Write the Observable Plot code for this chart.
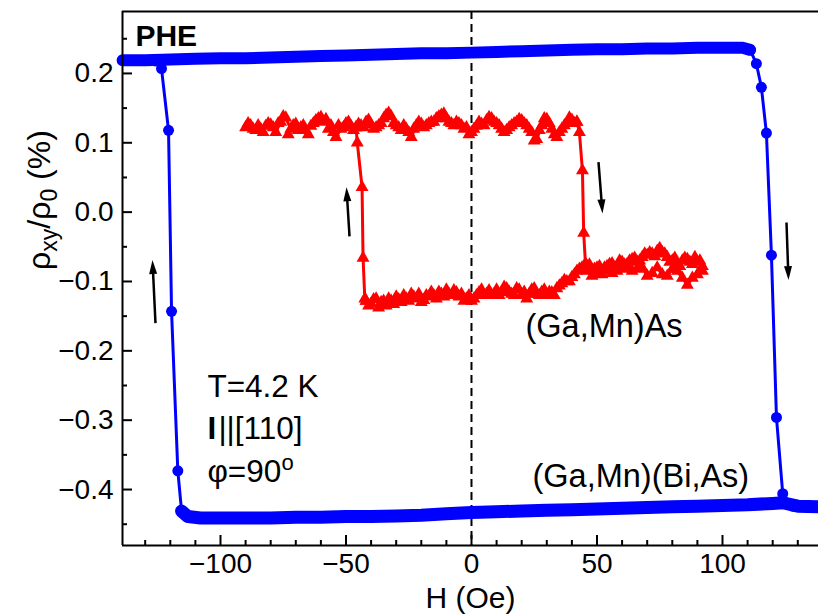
<!DOCTYPE html>
<html><head><meta charset="utf-8">
<script src="https://cdn.jsdelivr.net/npm/d3@7"></script>
<script src="https://cdn.jsdelivr.net/npm/@observablehq/plot@0.6"></script>
<style>body{margin:0;background:#fff} #chart{width:818px;height:614px}</style>
</head><body><div id="chart"></div><script>
// ---------- data ----------
// (Ga,Mn)(Bi,As) – blue, circles
const blueUpperH = [-139,-130,-120,-110,-100,-90,-80,-70,-60,-50,-40,-30,-20,-10,0,10,20,30,40,50,60,70,80,90,100,108,111];
const blueUpperV = [0.219,0.219,0.220,0.221,0.222,0.222,0.223,0.224,0.225,0.226,0.227,0.228,0.229,0.229,0.230,0.231,0.232,0.233,0.234,0.235,0.235,0.236,0.236,0.237,0.237,0.237,0.234];
const blueLowerH = [-115.5,-113,-108,-100,-90,-80,-70,-60,-50,-40,-30,-20,-10,0,10,20,30,40,50,60,70,80,90,100,110,120,124,130,139];
const blueLowerV = [-0.431,-0.439,-0.441,-0.441,-0.441,-0.441,-0.440,-0.440,-0.439,-0.439,-0.438,-0.437,-0.435,-0.433,-0.432,-0.431,-0.430,-0.429,-0.428,-0.427,-0.426,-0.425,-0.424,-0.423,-0.422,-0.420,-0.419,-0.424,-0.425];
const blueRightJumpH = [111,113.5,115.5,117.5,119.5,121.5,124,128];
const blueRightJumpV = [0.234,0.214,0.180,0.114,-0.062,-0.296,-0.406,-0.424];
const blueLeftJumpH = [-115.5,-117,-119.5,-120.7,-123.5,-126];
const blueLeftJumpV = [-0.431,-0.373,-0.143,0.118,0.207,0.218];

// (Ga,Mn)As – red, triangles
const redUpperH = [-90,-88,-86,-84,-82,-80,-78,-76,-74,-72,-70,-68,-66,-64,-62,-60,-58,-56,-54,-52,-50,-48,-46,-44,-42,-40,-38,-36,-34,-32,-30,-28,-26,-24,-22,-20,-18,-16,-14,-12,-10,-8,-6,-4,-2,0,2,4,6,8,10,12,14,16,18,20,22,24,26,28,30,32,34,36,38,40,42];
const redUpperV = [0.122,0.125,0.118,0.120,0.124,0.126,0.115,0.130,0.136,0.120,0.127,0.122,0.118,0.124,0.132,0.137,0.134,0.125,0.108,0.120,0.128,0.124,0.122,0.125,0.130,0.126,0.122,0.128,0.140,0.138,0.125,0.118,0.120,0.108,0.125,0.127,0.125,0.130,0.135,0.140,0.135,0.128,0.130,0.125,0.122,0.115,0.124,0.127,0.132,0.135,0.128,0.120,0.118,0.125,0.130,0.132,0.125,0.115,0.105,0.125,0.134,0.120,0.108,0.120,0.128,0.133,0.130];
const redUpperOddH = [-89,-87,-85,-83,-81,-79,-77,-75,-73,-71,-69,-67,-65,-63,-61,-59,-57,-55,-53,-51,-49,-47,-45,-43,-41,-39,-37,-35,-33,-31,-29,-27,-25,-23,-21,-19,-17,-15,-13,-11,-9,-7,-5,-3,-1,1,3,5,7,9,11,13,15,17,19,21,23,25,27,29,31,33,35,37,39,41];
const redUpperOddV = [0.128,0.120,0.125,0.115,0.128,0.122,0.128,0.138,0.112,0.125,0.118,0.125,0.112,0.128,0.135,0.130,0.120,0.115,0.125,0.122,0.130,0.118,0.127,0.122,0.133,0.120,0.125,0.135,0.143,0.128,0.122,0.125,0.115,0.120,0.130,0.122,0.128,0.130,0.138,0.142,0.130,0.125,0.128,0.120,0.112,0.120,0.130,0.125,0.137,0.130,0.125,0.115,0.122,0.128,0.134,0.128,0.120,0.103,0.118,0.135,0.128,0.112,0.115,0.125,0.136,0.128];
const redLowerH = [-42,-40,-38,-36,-34,-32,-30,-28,-26,-24,-22,-20,-18,-16,-14,-12,-10,-8,-6,-4,-2,0,2,4,6,8,10,12,14,16,18,20,22,24,26,28,30,32,34,36,38,40,42,44,46,48,50,52,54,56,58,60,62,64,66,68,70,72,74,76,78,80,82,84,86,88,90,92];
const redLowerV = [-0.128,-0.132,-0.125,-0.130,-0.135,-0.128,-0.122,-0.130,-0.125,-0.118,-0.125,-0.130,-0.120,-0.115,-0.125,-0.118,-0.112,-0.120,-0.116,-0.118,-0.125,-0.128,-0.120,-0.112,-0.118,-0.120,-0.112,-0.116,-0.110,-0.118,-0.110,-0.120,-0.125,-0.112,-0.118,-0.115,-0.120,-0.116,-0.110,-0.103,-0.100,-0.094,-0.085,-0.080,-0.078,-0.083,-0.080,-0.085,-0.078,-0.074,-0.078,-0.072,-0.075,-0.068,-0.072,-0.065,-0.062,-0.060,-0.056,-0.058,-0.065,-0.070,-0.075,-0.070,-0.068,-0.075,-0.072,-0.078];
const redLowerOddH = [-41,-39,-37,-35,-33,-31,-29,-27,-25,-23,-21,-19,-17,-15,-13,-11,-9,-7,-5,-3,-1,1,3,5,7,9,11,13,15,17,19,21,23,25,27,29,31,33,35,37,39,41,43,45,47,49,51,53,55,57,59,61,63,65,67,69,71,73,75,77,79,81,83,85,87,89,91];
const redLowerOddV = [-0.135,-0.126,-0.138,-0.128,-0.125,-0.133,-0.126,-0.120,-0.128,-0.122,-0.118,-0.127,-0.122,-0.120,-0.115,-0.122,-0.118,-0.113,-0.122,-0.128,-0.120,-0.125,-0.116,-0.120,-0.113,-0.118,-0.120,-0.108,-0.115,-0.120,-0.112,-0.115,-0.118,-0.110,-0.120,-0.112,-0.115,-0.120,-0.106,-0.098,-0.100,-0.090,-0.082,-0.080,-0.076,-0.082,-0.078,-0.080,-0.075,-0.080,-0.070,-0.076,-0.070,-0.066,-0.070,-0.060,-0.058,-0.064,-0.052,-0.060,-0.072,-0.066,-0.078,-0.066,-0.072,-0.065,-0.070];
const redReturnH = [92,90,88,86,84,82,80,78,76,74,72,70,68,66,64,62,60,58,56,54,52,50,48,46];
const redReturnV = [-0.085,-0.090,-0.095,-0.105,-0.095,-0.085,-0.082,-0.092,-0.090,-0.080,-0.088,-0.092,-0.080,-0.082,-0.085,-0.080,-0.082,-0.085,-0.088,-0.084,-0.090,-0.088,-0.092,-0.085];
const redRightJumpH = [42,43,44.2,44.7,45.4,46];
const redRightJumpV = [0.130,0.115,0.060,-0.030,-0.074,-0.078];
const redLeftJumpH = [-46,-45.5,-43.6,-43.2,-42.5,-42];
const redLeftJumpV = [0.122,0.100,0.036,-0.066,-0.125,-0.128];

// sweep-direction arrows (tail -> tip)
const arrowX1 = [-125.9,-48.6,50.6,125.5];
const arrowY1 = [-0.160,-0.035,0.072,-0.015];
const arrowX2 = [-127.1,-49.8,52.2,126.3];
const arrowY2 = [-0.069,0.036,-0.002,-0.098];

// ticks
const xMajorTicks = [-100,-50,0,50,100];
const xMinorTicks = [-130,-120,-110,-90,-80,-70,-60,-40,-30,-20,-10,10,20,30,40,60,70,80,90,110,120,130];
const yMajorTicks = [-0.4,-0.3,-0.2,-0.1,0.0,0.1,0.2];
const yMinorTicks = [-0.45,-0.35,-0.25,-0.15,-0.05,0.05,0.15,0.25];

// ---------- build ----------
const W = 818, H = 614, mL = 122, mR = 0, mT = 11, mB = 69;
const xDomain = [-139.04, 138.25], yDomain = [-0.4807, 0.2893];
const xs = d3.scaleLinear(xDomain, [mL, W - mR]);
const ys = d3.scaleLinear(yDomain, [H - mB, mT]);
const zip = (a, b) => a.map((x, i) => ({x, y: b[i]}));

const blueUpper = zip(blueUpperH, blueUpperV);
const blueLower = zip(blueLowerH, blueLowerV);
const blueRight = zip(blueRightJumpH, blueRightJumpV);
const blueLeft = zip(blueLeftJumpH, blueLeftJumpV);
const redUpper = zip(redUpperH, redUpperV);
const redUpperOdd = zip(redUpperOddH, redUpperOddV);
const redLower = zip(redLowerH, redLowerV);
const redLowerOdd = zip(redLowerOddH, redLowerOddV);
const redReturn = zip(redReturnH, redReturnV);
const redRight = zip(redRightJumpH, redRightJumpV);
const redLeft = zip(redLeftJumpH, redLeftJumpV);

const arrows = arrowX1.map((x1, i) => {
  const px1 = xs(x1), py1 = ys(arrowY1[i]), px2 = xs(arrowX2[i]), py2 = ys(arrowY2[i]);
  const dx = px2 - px1, dy = py2 - py1, len = Math.hypot(dx, dy);
  const rot = Math.atan2(dx, -dy) * 180 / Math.PI;
  return {x1, y1: arrowY1[i], x2: arrowX2[i], y2: arrowY2[i],
    xb: xs.invert(px2 - dx / len * 8), yb: ys.invert(py2 - dy / len * 8), rot};
});
const headSymbol = {draw(ctx) { ctx.moveTo(0, 0); ctx.lineTo(4, 14); ctx.lineTo(-4, 14); ctx.closePath(); }};

const BLUE = "#0000ff", RED = "#ff0000";
const FONT = "Liberation Sans, Arial, sans-serif";
const plotW = W - mL - mR, plotH = H - mT - mB;
const tri = {x: "x", y: "y", r: 4.8, symbol: "triangle", fill: RED};
const redLine = {x: "x", y: "y", stroke: RED, strokeWidth: 3};

const plot = Plot.plot({
  width: W, height: H,
  marginLeft: mL, marginRight: mR, marginTop: mT, marginBottom: mB,
  x: {domain: xDomain, label: null},
  y: {domain: yDomain, label: null},
  style: {fontFamily: FONT, fontSize: "28px", background: "white", color: "black", overflow: "visible"},
  marks: [
    Plot.ruleX([0], {stroke: "black", strokeWidth: 2, strokeDasharray: "8,5"}),
    // blue
    Plot.line(blueUpper, {x: "x", y: "y", stroke: BLUE, strokeWidth: 12, strokeLinecap: "round", strokeLinejoin: "round"}),
    Plot.line(blueLower, {x: "x", y: "y", stroke: BLUE, strokeWidth: 13, strokeLinecap: "round", strokeLinejoin: "round"}),
    Plot.line(blueRight, {x: "x", y: "y", stroke: BLUE, strokeWidth: 3}),
    Plot.line(blueLeft, {x: "x", y: "y", stroke: BLUE, strokeWidth: 3}),
    Plot.dot(blueRight, {x: "x", y: "y", r: 5.5, fill: BLUE}),
    Plot.dot(blueLeft, {x: "x", y: "y", r: 5.5, fill: BLUE}),
    // red
    Plot.line(redUpper, redLine),
    Plot.line(redLower, redLine),
    Plot.line(redReturn, redLine),
    Plot.line(redRight, redLine),
    Plot.line(redLeft, redLine),
    Plot.dot(redUpper, tri),
    Plot.dot(redUpperOdd, tri),
    Plot.dot(redLower, tri),
    Plot.dot(redLowerOdd, tri),
    Plot.dot(redReturn, tri),
    Plot.dot(redRight, tri),
    Plot.dot(redLeft, tri),
    // arrows
    Plot.link(arrows, {x1: "x1", y1: "y1", x2: "xb", y2: "yb", stroke: "black", strokeWidth: 2.5}),
    Plot.dot(arrows, {x: "x2", y: "y2", symbol: headSymbol, rotate: "rot", fill: "black", stroke: "none", r: 5}),
    // annotations
    Plot.text(["PHE"], {x: -133.9, y: 0.240, fontSize: 30, fontWeight: "bold", textAnchor: "start", lineAnchor: "bottom"}),
    Plot.text(["T=4.2 K"], {x: -105.2, y: -0.267, fontSize: 31.5, textAnchor: "start", lineAnchor: "bottom"}),
    Plot.text(["I"], {x: -105.2, y: -0.327, fontSize: 31.5, fontWeight: "bold", textAnchor: "start", lineAnchor: "bottom"}),
    Plot.text(["||[110]"], {x: -105.2, y: -0.327, dx: 11, fontSize: 31.5, textAnchor: "start", lineAnchor: "bottom"}),
    Plot.text(["φ=90"], {x: -105.2, y: -0.389, fontSize: 31.5, textAnchor: "start", lineAnchor: "bottom"}),
    Plot.text(["o"], {x: -105.2, y: -0.389, dx: 74, dy: -12, fontSize: 22, textAnchor: "start", lineAnchor: "bottom"}),
    Plot.text(["(Ga,Mn)As"], {x: 21.5, y: -0.180, fontSize: 32.5, textAnchor: "start", lineAnchor: "bottom"}),
    Plot.text(["(Ga,Mn)(Bi,As)"], {x: 24.3, y: -0.397, fontSize: 32.5, textAnchor: "start", lineAnchor: "bottom"}),
    Plot.text(["H (Oe)"], {frameAnchor: "bottom", dy: 62, fontSize: 30, lineAnchor: "bottom"}),
    // axes & ticks (inward)
    Plot.tickY(yMajorTicks, {y: d => d, stroke: "black", strokeWidth: 2, insetRight: plotW - 10}),
    Plot.tickY(yMinorTicks, {y: d => d, stroke: "black", strokeWidth: 2, insetRight: plotW - 5}),
    Plot.tickX(xMajorTicks, {x: d => d, stroke: "black", strokeWidth: 2, insetTop: plotH - 10}),
    Plot.tickX(xMinorTicks, {x: d => d, stroke: "black", strokeWidth: 2, insetTop: plotH - 5}),
    Plot.axisY(yMajorTicks, {anchor: "left", tickSize: 0, tickPadding: 9, tickFormat: d3.format(".1f"), fontSize: 28, label: null}),
    Plot.axisX(xMajorTicks, {anchor: "bottom", tickSize: 0, tickPadding: 8, tickFormat: d3.format("d"), fontSize: 28, label: null}),
    Plot.ruleX([xDomain[0]], {stroke: "black", strokeWidth: 2}),
    Plot.ruleY([yDomain[0], yDomain[1]], {stroke: "black", strokeWidth: 2})
  ]
});

// y-axis title with subscripts
const svg = d3.select(plot);
const lab = svg.append("text")
  .attr("transform", "translate(50,200) rotate(-90)")
  .attr("text-anchor", "middle")
  .attr("font-size", 32).attr("font-family", FONT).attr("fill", "black");
lab.append("tspan").text("ρ");
lab.append("tspan").attr("font-size", 23).attr("dy", 7).text("xy");
lab.append("tspan").attr("dy", -7).text("/ρ");
lab.append("tspan").attr("font-size", 23).attr("dy", 7).text("0");
lab.append("tspan").attr("dy", -7).text(" (%)");

document.getElementById("chart").appendChild(plot);
</script></body></html>
